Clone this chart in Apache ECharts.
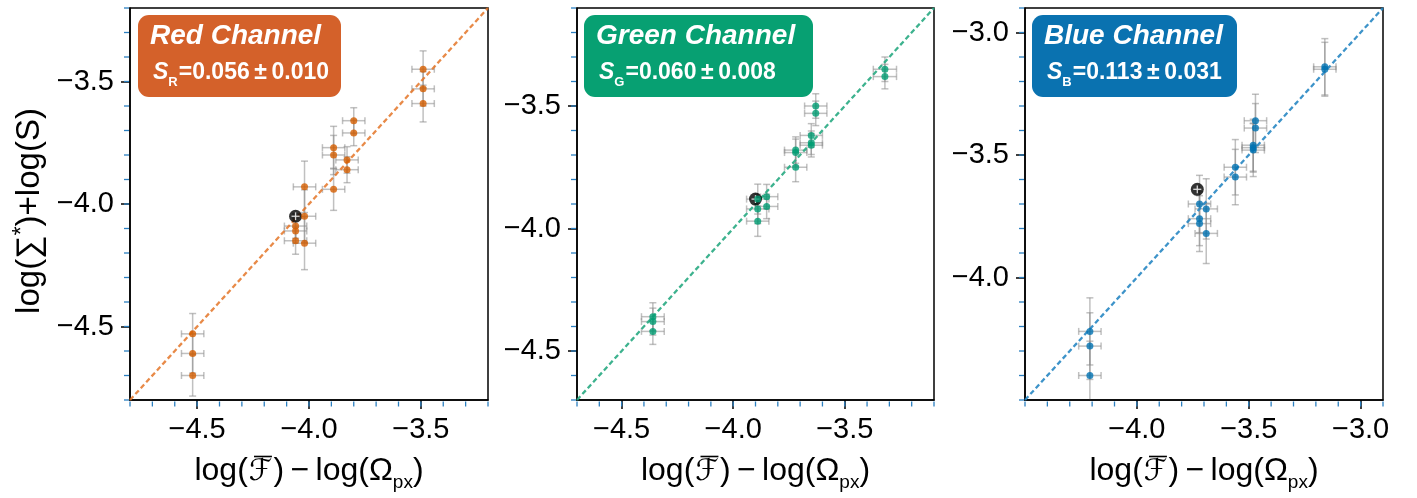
<!DOCTYPE html>
<html>
<head>
<meta charset="utf-8">
<script src="https://cdn.jsdelivr.net/npm/echarts@6/dist/echarts.min.js"></script>
<style>
  html, body { margin: 0; padding: 0; background: #ffffff; }
  #chart { width: 1417px; height: 498px; }
</style>
</head>
<body>
<div id="chart"></div>
<script>
// ---- Red channel measurements ----
const redX    = [-3.49, -3.49, -3.49, -3.80, -3.80, -3.89, -3.89, -3.83, -3.83, -3.89, -4.02, -4.02, -4.06, -4.06, -4.06, -4.02, -4.52, -4.52, -4.52];
const redY    = [-3.45, -3.53, -3.59, -3.66, -3.71, -3.77, -3.80, -3.82, -3.86, -3.94, -3.93, -4.05, -4.09, -4.11, -4.15, -4.16, -4.53, -4.61, -4.70];
const redXErr = [0.05, 0.05, 0.05, 0.05, 0.05, 0.05, 0.05, 0.05, 0.05, 0.05, 0.05, 0.05, 0.05, 0.05, 0.05, 0.05, 0.05, 0.05, 0.05];
const redYErr = [0.075, 0.07, 0.075, 0.053, 0.052, 0.087, 0.08, 0.054, 0.053, 0.086, 0.105, 0.108, 0.05, 0.05, 0.055, 0.108, 0.083, 0.08, 0.084];
const redRef  = [-4.06, -4.05];

// ---- Green channel measurements ----
const greenX    = [-3.32, -3.32, -3.63, -3.63, -3.65, -3.65, -3.65, -3.72, -3.72, -3.72, -3.89, -3.85, -3.85, -3.89, -3.89, -4.36, -4.36, -4.36];
const greenY    = [-3.35, -3.38, -3.50, -3.53, -3.62, -3.65, -3.66, -3.68, -3.69, -3.75, -3.88, -3.87, -3.91, -3.92, -3.97, -4.36, -4.38, -4.42];
const greenXErr = [0.052, 0.052, 0.05, 0.05, 0.05, 0.05, 0.05, 0.05, 0.05, 0.05, 0.05, 0.05, 0.05, 0.05, 0.05, 0.051, 0.051, 0.051];
const greenYErr = [0.05, 0.05, 0.05, 0.05, 0.048, 0.048, 0.048, 0.054, 0.055, 0.059, 0.061, 0.05, 0.05, 0.06, 0.062, 0.057, 0.055, 0.053];
const greenRef  = [-3.90, -3.88];

// ---- Blue channel measurements ----
const blueX    = [-3.16, -3.16, -3.47, -3.47, -3.48, -3.48, -3.48, -3.56, -3.56, -3.72, -3.69, -3.72, -3.72, -3.69, -4.21, -4.21, -4.21];
const blueY    = [-3.14, -3.15, -3.36, -3.39, -3.46, -3.47, -3.48, -3.55, -3.59, -3.70, -3.72, -3.76, -3.78, -3.82, -4.22, -4.28, -4.40];
const blueXErr = [0.05, 0.05, 0.05, 0.05, 0.05, 0.05, 0.05, 0.05, 0.05, 0.05, 0.05, 0.05, 0.05, 0.05, 0.05, 0.05, 0.05];
const blueYErr = [0.115, 0.11, 0.108, 0.1, 0.106, 0.1, 0.108, 0.113, 0.113, 0.117, 0.123, 0.11, 0.114, 0.123, 0.137, 0.136, 0.14];
const blueRef  = [-3.73, -3.64];

// ---- Axis limits and major tick labels ----
const redRange   = [-4.8, -3.2];
const greenRange = [-4.7, -3.1];
const blueRange  = [-4.5, -2.9];
const redTicks   = [-4.5, -4.0, -3.5];
const greenTicks = [-4.5, -4.0, -3.5];
const blueTicks  = [-4.0, -3.5, -3.0];
const minorStep  = 0.1;
const refErr     = [0.018, 0.016];

// ---- Panel labels ----
const channelNames = ['Red Channel', 'Green Channel', 'Blue Channel'];
const channelSubs  = ['R', 'G', 'B'];
const slopeValues  = ['0.056', '0.060', '0.113'];
const slopeErrors  = ['0.010', '0.008', '0.031'];

const FONT = '"Liberation Sans", Arial, Helvetica, sans-serif';
const FFONT = '"DejaVu Sans"';
const MINOR_COLOR = '#2b7fc0';
const BAR_COLOR = 'rgba(140,140,140,0.55)';

const panels = [
  { x: redX, y: redY, xe: redXErr, ye: redYErr, ref: redRef, range: redRange, ticks: redTicks,
    color: '#D55E00', line: 'rgba(228,118,40,0.85)', box: '#D4612A',
    left: 130, width: 358, boxX: 138, boxW: 203 },
  { x: greenX, y: greenY, xe: greenXErr, ye: greenYErr, ref: greenRef, range: greenRange, ticks: greenTicks,
    color: '#009E73', line: 'rgba(40,170,130,0.9)', box: '#07A072',
    left: 577, width: 357, boxX: 584, boxW: 229 },
  { x: blueX, y: blueY, xe: blueXErr, ye: blueYErr, ref: blueRef, range: blueRange, ticks: blueTicks,
    color: '#0072B2', line: 'rgba(40,135,195,0.9)', box: '#0A72B0',
    left: 1025, width: 358, boxX: 1032, boxW: 205 }
];

const GRID_TOP = 8, GRID_H = 392;
const XTITLE_Y = 475;
const fmt = v => (v < 0 ? '\u2212' : '') + Math.abs(v).toFixed(1);

// tick positions every minorStep across an axis range
function minorTickValues(range) {
  const out = [];
  const n = Math.round((range[1] - range[0]) / minorStep);
  for (let k = 0; k <= n; k++) out.push(+(range[0] + k * minorStep).toFixed(2));
  return out;
}

function errorBars(idx, xs, ys, xe, ye, color, width, cap, z) {
  return {
    type: 'custom', xAxisIndex: idx, yAxisIndex: idx, z: z, silent: true,
    data: xs.map((v, i) => [v, ys[i], xe[i], ye[i]]),
    renderItem(params, api) {
      const cs = params.coordSys;
      const x = api.value(0), y = api.value(1), dx = api.value(2), dy = api.value(3);
      const l = api.coord([x - dx, y]), r = api.coord([x + dx, y]);
      const t = api.coord([x, y + dy]), b = api.coord([x, y - dy]);
      const yMin = cs.y, yMax = cs.y + cs.height;
      const tY = Math.max(t[1], yMin), bY = Math.min(b[1], yMax);
      const st = { stroke: color, lineWidth: width, fill: null };
      const kids = [
        { type: 'line', shape: { x1: l[0], y1: l[1], x2: r[0], y2: r[1] }, style: st },
        { type: 'line', shape: { x1: t[0], y1: tY, x2: b[0], y2: bY }, style: st }
      ];
      if (cap > 0) {
        kids.push({ type: 'line', shape: { x1: l[0], y1: l[1] - cap, x2: l[0], y2: l[1] + cap }, style: st });
        kids.push({ type: 'line', shape: { x1: r[0], y1: r[1] - cap, x2: r[0], y2: r[1] + cap }, style: st });
        if (t[1] >= yMin) kids.push({ type: 'line', shape: { x1: t[0] - cap, y1: t[1], x2: t[0] + cap, y2: t[1] }, style: st });
        if (b[1] <= yMax) kids.push({ type: 'line', shape: { x1: b[0] - cap, y1: b[1], x2: b[0] + cap, y2: b[1] }, style: st });
      }
      return { type: 'group', children: kids };
    }
  };
}

// short blue minor ticks outside the left spine (horizontal) and bottom spine (vertical)
function minorTicks(idx, range) {
  const vals = minorTickValues(range);
  const data = vals.map(v => [range[0], v, 1]).concat(vals.map(v => [v, range[0], 0]));
  return {
    type: 'custom', xAxisIndex: idx, yAxisIndex: idx, z: 8, silent: true, clip: false,
    dimensions: ['x', 'y', 'dir'],
    encode: { x: 0, y: 1 },
    data: data,
    renderItem(params, api) {
      const cs = params.coordSys;
      const p = api.coord([api.value(0), api.value(1)]);
      const style = { fill: MINOR_COLOR };
      if (api.value(2) === 1) {
        return { type: 'rect', shape: { x: cs.x - 6, y: p[1] - 0.65, width: 5, height: 1.3 }, style: style };
      }
      return { type: 'rect', shape: { x: p[0] - 0.65, y: cs.y + cs.height + 1.5, width: 1.3, height: 5 }, style: style };
    }
  };
}

// text measuring for the overbar on the calligraphic F
const mctx = document.createElement('canvas').getContext('2d');
function textW(text, font) { mctx.font = font; return mctx.measureText(text).width; }

const X_PARTS = ['log(', '\u2131', ')\u2009\u2212\u2009log(\u03A9', 'px', ')'];
const T_SIZE = 32, F_SIZE = 30, S_SIZE = 19;
const xTitleRich = {
  t:   { fontSize: T_SIZE, fontFamily: FONT, fill: '#000', verticalAlign: 'bottom', lineHeight: 34, padding: [0, 0, 5, 0] },
  f:   { fontSize: F_SIZE, fontFamily: FFONT, fill: '#000', verticalAlign: 'bottom', lineHeight: 34, padding: [0, 1, 5, 1] },
  sub: { fontSize: S_SIZE, fontFamily: FONT, fill: '#000', verticalAlign: 'bottom', lineHeight: 22, padding: [0, 0, 0, 0] }
};
const xTitleText = '{t|' + X_PARTS[0] + '}{f|' + X_PARTS[1] + '}{t|' + X_PARTS[2] + '}{sub|' + X_PARTS[3] + '}{t|' + X_PARTS[4] + '}';

const grids = [], xAxes = [], yAxes = [], series = [], graphics = [];

panels.forEach((p, i) => {
  grids.push({ left: p.left, top: GRID_TOP, width: p.width, height: GRID_H,
    show: true, borderColor: '#000', borderWidth: 1.5, backgroundColor: 'transparent',
    containLabel: false, outerBoundsMode: 'none' });
});

panels.forEach((p, i) => {
  const common = {
    type: 'value', gridIndex: i, min: p.range[0], max: p.range[1], z: 3,
    axisLine: { show: true, onZero: false, lineStyle: { color: '#000', width: 1.5 } },
    axisTick: { show: true, length: 9, lineStyle: { color: '#000', width: 1.5 }, customValues: p.ticks },
    axisLabel: { customValues: p.ticks, formatter: fmt, color: '#000', fontSize: 29, fontFamily: FONT },
    splitLine: { show: false }
  };
  xAxes.push(Object.assign({}, common, {
    position: 'bottom',
    axisLabel: Object.assign({}, common.axisLabel, { margin: 15 })
  }));
  yAxes.push(Object.assign({}, common, {
    position: 'left',
    axisLabel: Object.assign({}, common.axisLabel, { margin: 16 })
  }));
});

// y-axis title, rotated, beside the first panel
graphics.push({
  type: 'text', z: 21, x: 28, y: 211, rotation: Math.PI / 2,
  style: {
    text: '{t|log(\u2211}{sup|*}{t|)+log(S)}',
    textAlign: 'center', align: 'center', textVerticalAlign: 'middle', verticalAlign: 'middle',
    rich: {
      t: { fontSize: 33, fontFamily: FONT, fill: '#000', verticalAlign: 'bottom', lineHeight: 36, padding: [0, 0, 0, 0] },
      sup: { fontSize: 23, fontFamily: FONT, fill: '#000', verticalAlign: 'bottom', lineHeight: 24, padding: [0, 0, 12, 0] }
    }
  }
});

panels.forEach((p, i) => {
  series.push(minorTicks(i, p.range));
  // measurement error bars
  series.push(errorBars(i, p.x, p.y, p.xe, p.ye, BAR_COLOR, 1.5, 3.5, 2));
  // 1:1 relation
  series.push({
    type: 'line', xAxisIndex: i, yAxisIndex: i, z: 3, silent: true,
    data: [[p.range[0], p.range[0]], [p.range[1], p.range[1]]],
    symbol: 'none', lineStyle: { color: p.line, width: 2.3, type: [5, 3] }
  });
  // reference point
  series.push({
    type: 'scatter', xAxisIndex: i, yAxisIndex: i, z: 4, silent: true,
    data: [p.ref], symbol: 'circle', symbolSize: 13, itemStyle: { color: '#000' }
  });
  series.push(errorBars(i, [p.ref[0]], [p.ref[1]], [refErr[0]], [refErr[1]], 'rgba(225,225,225,0.95)', 1.3, 0, 5));
  // channel measurements
  series.push({
    type: 'scatter', xAxisIndex: i, yAxisIndex: i, z: 6, silent: true,
    data: p.x.map((v, k) => [v, p.y[k]]), symbol: 'circle', symbolSize: 7,
    itemStyle: { color: p.color }
  });

  // x-axis title with the overbar drawn above the F
  const cx = p.left + p.width / 2;
  const fT = T_SIZE + 'px ' + FONT, fF = F_SIZE + 'px ' + FFONT, fS = S_SIZE + 'px ' + FONT;
  const wA = textW(X_PARTS[0], fT), wF = textW(X_PARTS[1], fF), wB = textW(X_PARTS[2], fT);
  const wS = textW(X_PARTS[3], fS), wC = textW(X_PARTS[4], fT);
  const total = wA + wF + 2 + wB + wS + wC;
  const fLeft = cx - total / 2 + wA + 1;
  graphics.push({
    type: 'text', z: 21,
    style: { x: cx, y: XTITLE_Y, text: xTitleText, rich: xTitleRich,
      textAlign: 'center', align: 'center', textVerticalAlign: 'middle', verticalAlign: 'middle' }
  });
  graphics.push({
    type: 'line', z: 21,
    shape: { x1: fLeft + wF * 0.22, y1: XTITLE_Y - 18.5, x2: fLeft + wF * 0.98, y2: XTITLE_Y - 18.5 },
    style: { stroke: '#000', lineWidth: 1.6 }
  });

  // label box
  graphics.push({
    type: 'rect', z: 20,
    shape: { x: p.boxX, y: 15, width: p.boxW, height: 82, r: 11 },
    style: { fill: p.box }
  });
  graphics.push({
    type: 'text', z: 21,
    style: {
      x: p.boxX + 12, y: 36, text: channelNames[i], fill: '#fff',
      font: 'italic bold 28px ' + FONT, textVerticalAlign: 'middle', verticalAlign: 'middle'
    }
  });
  graphics.push({
    type: 'text', z: 21,
    style: {
      x: p.boxX + 15, y: 75, textVerticalAlign: 'middle', verticalAlign: 'middle', fill: '#fff',
      text: '{s|S}{sub|' + channelSubs[i] + '}{v|=' + slopeValues[i] + '\u2009\u00B1\u2009' + slopeErrors[i] + '}',
      rich: {
        s: { fontSize: 23, fontWeight: 'bold', fontStyle: 'italic', fontFamily: FONT, fill: '#fff', verticalAlign: 'bottom', padding: [0, 0, 4, 0] },
        sub: { fontSize: 13, fontWeight: 'bold', fontFamily: FONT, fill: '#fff', verticalAlign: 'bottom', padding: [0, 1, 0, 0] },
        v: { fontSize: 23, fontWeight: 'bold', fontFamily: FONT, fill: '#fff', verticalAlign: 'bottom', padding: [0, 0, 4, 0] }
      }
    }
  });
});

const chart = echarts.init(document.getElementById('chart'), null, { renderer: 'canvas' });
chart.setOption({
  backgroundColor: '#ffffff',
  animation: false,
  grid: grids,
  xAxis: xAxes,
  yAxis: yAxes,
  series: series,
  graphic: { elements: graphics }
});
</script>
</body>
</html>
